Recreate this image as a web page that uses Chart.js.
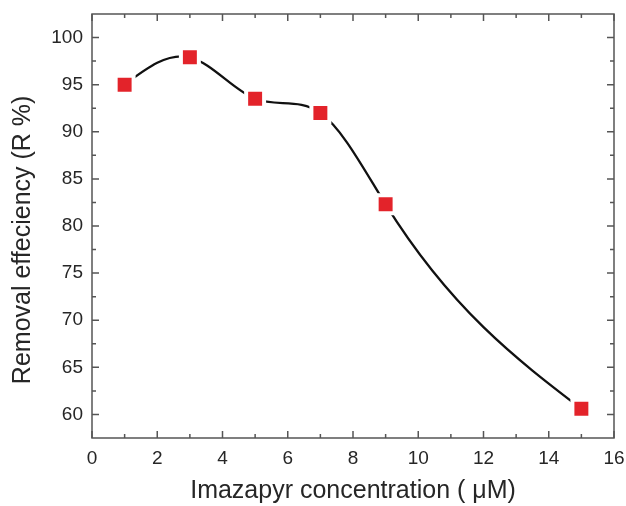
<!DOCTYPE html>
<html>
<head>
<meta charset="utf-8">
<script src="https://cdn.jsdelivr.net/npm/chart.js@4.4.0/dist/chart.umd.min.js"></script>
<style>
  html, body { margin: 0; padding: 0; background: #ffffff; }
  #wrap { width: 626px; height: 506px; position: relative; }
</style>
</head>
<body>
<div id="wrap"><canvas id="c" width="626" height="506"></canvas></div>
<script>
// ---- data ----
const concentrations = [1, 3, 5, 7, 9, 15];                       // Imazapyr concentration (µM)
const removalEfficiency = [95.0, 97.9, 93.5, 92.0, 82.3, 60.6];   // R %
const xMajorTicks = [0, 2, 4, 6, 8, 10, 12, 14, 16];
const xMinorTicks = [1, 3, 5, 7, 9, 11, 13, 15];
const yMajorTicks = [60, 65, 70, 75, 80, 85, 90, 95, 100];
const yMinorTicks = [62.5, 67.5, 72.5, 77.5, 82.5, 87.5, 92.5, 97.5];
const xTitle = 'Imazapyr concentration ( μM)';
const yTitle = 'Removal effeciency (R %)';

const FONT = "'Liberation Sans', Arial, sans-serif";
const FRAME = '#555555';
const TEXT = '#262626';

// natural cubic spline (as the original plot's "spline" connector) – slopes from the data
function naturalSpline(xs, ys) {
  const n = xs.length, h = [], s = [], M = new Array(n).fill(0);
  for (let i = 0; i < n - 1; i++) { h.push(xs[i + 1] - xs[i]); s.push((ys[i + 1] - ys[i]) / h[i]); }
  const a = [], b = [], c = [], d = [];
  for (let i = 1; i < n - 1; i++) {
    a.push(h[i - 1]); b.push(2 * (h[i - 1] + h[i])); c.push(h[i]); d.push(6 * (s[i] - s[i - 1]));
  }
  const m = b.length;
  for (let i = 1; i < m; i++) { const w = a[i] / b[i - 1]; b[i] -= w * c[i - 1]; d[i] -= w * d[i - 1]; }
  const sol = new Array(m);
  sol[m - 1] = d[m - 1] / b[m - 1];
  for (let i = m - 2; i >= 0; i--) sol[i] = (d[i] - c[i] * sol[i + 1]) / b[i];
  for (let i = 0; i < m; i++) M[i + 1] = sol[i];
  return { h, s, M };
}

const splinePlugin = {
  id: 'naturalSpline',
  beforeDatasetsDraw(chart) {
    const meta = chart.getDatasetMeta(0);
    const line = meta.dataset, pts = meta.data;
    if (!line || pts.length < 3) return;
    line.updateControlPoints(chart.chartArea, 'x');
    const xS = chart.scales.x, yS = chart.scales.y;
    const { h, s, M } = naturalSpline(concentrations, removalEfficiency);
    for (let i = 0; i < pts.length - 1; i++) {
      const hh = h[i];
      const slopeL = s[i] - hh * (2 * M[i] + M[i + 1]) / 6;
      const slopeR = s[i] + hh * (M[i] + 2 * M[i + 1]) / 6;
      pts[i].cp2x = xS.getPixelForValue(concentrations[i] + hh / 3);
      pts[i].cp2y = yS.getPixelForValue(removalEfficiency[i] + hh / 3 * slopeL);
      pts[i + 1].cp1x = xS.getPixelForValue(concentrations[i + 1] - hh / 3);
      pts[i + 1].cp1y = yS.getPixelForValue(removalEfficiency[i + 1] - hh / 3 * slopeR);
    }
    line._path = undefined;
  }
};

const framePlugin = {
  id: 'frameTicks',
  afterDraw(chart) {
    const { ctx, chartArea: a, scales } = chart;
    const xs = scales.x, ys = scales.y;
    ctx.save();
    ctx.strokeStyle = FRAME;
    ctx.lineWidth = 1.5;
    ctx.strokeRect(a.left, a.top, a.right - a.left, a.bottom - a.top);
    const major = 7, minor = 4;
    ctx.beginPath();
    const xt = (v, len) => {
      const p = xs.getPixelForValue(v);
      ctx.moveTo(p, a.bottom); ctx.lineTo(p, a.bottom - len);
      ctx.moveTo(p, a.top); ctx.lineTo(p, a.top + len);
    };
    const yt = (v, len) => {
      const p = ys.getPixelForValue(v);
      ctx.moveTo(a.left, p); ctx.lineTo(a.left + len, p);
      ctx.moveTo(a.right, p); ctx.lineTo(a.right - len, p);
    };
    xMajorTicks.forEach(v => xt(v, major));
    xMinorTicks.forEach(v => xt(v, minor));
    yMajorTicks.forEach(v => yt(v, major));
    yMinorTicks.forEach(v => yt(v, minor));
    ctx.stroke();
    ctx.restore();
  }
};

new Chart(document.getElementById('c'), {
  type: 'line',
  data: {
    datasets: [{
      data: concentrations.map((x, i) => ({ x: x, y: removalEfficiency[i] })),
      borderColor: '#111111',
      borderWidth: 2.3,
      tension: 0.4,
      fill: false,
      pointStyle: 'rect',
      pointRadius: 12.7,
      pointHoverRadius: 12.7,
      pointBackgroundColor: '#e3232a',
      pointBorderColor: '#ffffff',
      pointBorderWidth: 4,
      pointHoverBorderWidth: 4
    }]
  },
  options: {
    responsive: false,
    animation: false,
    events: [],
    layout: { autoPadding: false, padding: { left: 0, right: 12, top: 14, bottom: 0 } },
    plugins: { legend: { display: false }, tooltip: { enabled: false } },
    scales: {
      x: {
        type: 'linear',
        min: 0, max: 16,
        afterFit(s) { s.height = 68; s.paddingLeft = 0; s.paddingRight = 0; },
        afterBuildTicks(s) { s.ticks = xMajorTicks.map(v => ({ value: v })); },
        grid: { display: false, drawTicks: false },
        border: { display: false },
        ticks: { padding: 9, color: TEXT, font: { family: FONT, size: 19 } },
        title: { display: true, text: xTitle, color: TEXT,
                 font: { family: FONT, size: 25 }, padding: { top: 0, bottom: 0 } }
      },
      y: {
        type: 'linear',
        min: 57.5, max: 102.5,
        afterFit(s) { s.width = 92; s.paddingTop = 0; s.paddingBottom = 0; },
        afterBuildTicks(s) { s.ticks = yMajorTicks.map(v => ({ value: v })); },
        grid: { display: false, drawTicks: false },
        border: { display: false },
        ticks: { padding: 9, color: TEXT, font: { family: FONT, size: 19 } },
        title: { display: true, text: yTitle + '\u00a0\u00a0\u00a0\u00a0', color: TEXT,
                 font: { family: FONT, size: 25 }, padding: { top: 8, bottom: 0 } }
      }
    }
  },
  plugins: [splinePlugin, framePlugin]
});
</script>
</body>
</html>
